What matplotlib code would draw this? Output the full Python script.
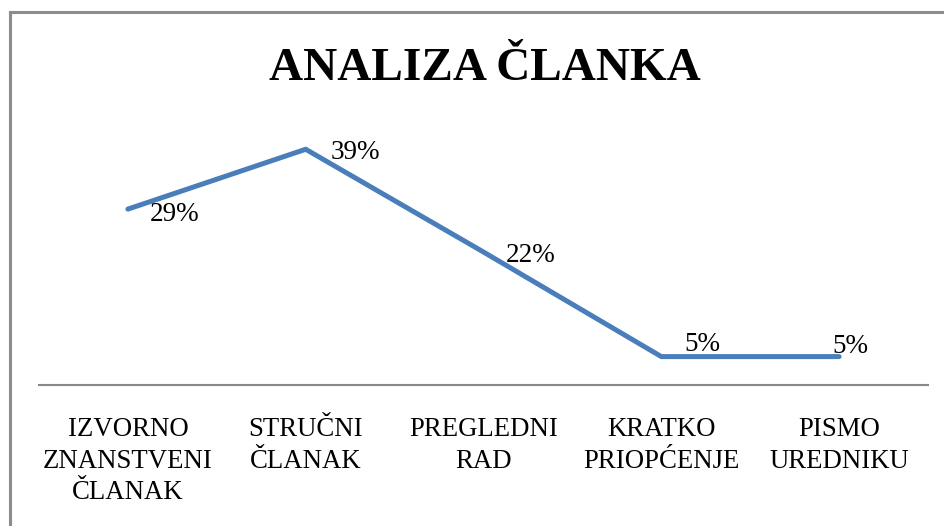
import matplotlib.pyplot as plt
from matplotlib.lines import Line2D

categories = ['IZVORNO\nZNANSTVENI\nČLANAK', 'STRUČNI\nČLANAK', 'PREGLEDNI\nRAD',
              'KRATKO\nPRIOPĆENJE', 'PISMO\nUREDNIKU']
values = [29.1, 39.0, 22.0, 4.7, 4.7]
labels = ['29%', '39%', '22%', '5%', '5%']

plt.rcParams['font.family'] = ['Liberation Serif', 'DejaVu Serif']

W, H = 944, 526
fig = plt.figure(figsize=(W / 100, H / 100), dpi=100)
ax = fig.add_axes([39 / W, 1 - 385 / H, 889 / W, 272 / H])

x = range(len(values))
ax.plot(x, values, color='#4A7EBB', lw=3.6, solid_capstyle='round', solid_joinstyle='miter')
ax.set_xlim(-0.5, len(values) - 0.5)
ax.set_ylim(0, 45)

# label offsets in pixels (dx, dy) relative to each point
offsets = [(22, -5), (25, -3), (22, -3), (23, 12), (-7, 10)]
for i, (v, lab) in enumerate(zip(values, labels)):
    dx, dy = offsets[i]
    ax.annotate(lab, (i, v), xytext=(dx * 0.72, dy * 0.72), textcoords='offset points',
                ha='left', va='center', fontsize=19.5, color='black')

for s in ['top', 'right', 'left']:
    ax.spines[s].set_visible(False)
ax.spines['bottom'].set_color('#888888')
ax.spines['bottom'].set_linewidth(1.5)
ax.set_yticks([])
ax.set_xticks(list(x))
ax.set_xticklabels(categories, fontsize=19.3, linespacing=1.35, multialignment='center')
ax.tick_params(axis='x', length=0, pad=23)

fig.text(485 / W, 1 - 80 / H, 'ANALIZA ČLANKA', ha='center', va='baseline',
         fontsize=34, fontweight='bold')

# chart frame: only top and left edges are visible in the crop
top = 1 - 12 / H
left = 10 / W
fig.lines.append(Line2D([left, 1.0], [top, top], transform=fig.transFigure,
                        color='#8c8c8c', lw=2.2))
fig.lines.append(Line2D([left, left], [0, top], transform=fig.transFigure,
                        color='#8c8c8c', lw=2.2))

fig.savefig('out.png', dpi=100)
